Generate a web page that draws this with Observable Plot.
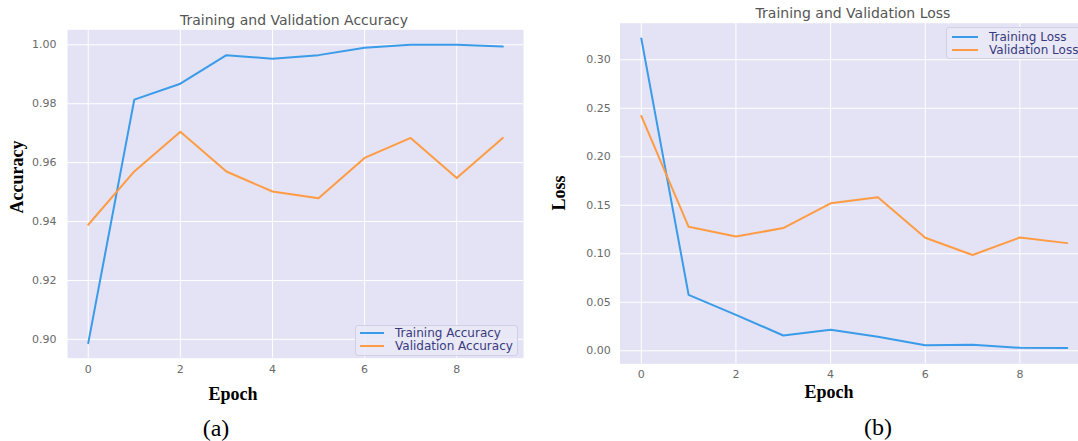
<!DOCTYPE html>
<html>
<head>
<meta charset="utf-8">
<script src="https://cdn.jsdelivr.net/npm/d3@7"></script>
<script src="https://cdn.jsdelivr.net/npm/@observablehq/plot@0.6"></script>
<style>
  body { margin: 0; background: #fff; }
  #wrap { position: relative; width: 1078px; height: 441px; overflow: hidden; background: #fff; }
  .abs { position: absolute; white-space: nowrap; }
  .title { font-family: "DejaVu Sans", sans-serif; font-size: 14px; color: #555; transform: translate(-50%, -50%); }
  .axlab { font-family: "Liberation Serif", "Times New Roman", serif; font-weight: bold; font-size: 18px; color: #000; }
  .cap { font-family: "Liberation Serif", "Times New Roman", serif; font-size: 24px; color: #000; transform: translate(-50%, -50%); }
  .legend { border: 1px solid #cfcfe6; background: rgba(232,232,246,0.8); border-radius: 3px; }
  .legend .row { position: absolute; font-family: "DejaVu Sans", sans-serif; font-size: 12px; color: #3a3a7e; }
  .legend .sw { position: absolute; height: 2px; }
</style>
</head>
<body>
<div id="wrap"></div>
<script>
const epochs = [0, 1, 2, 3, 4, 5, 6, 7, 8, 9];
const trainAcc = [0.8987, 0.9814, 0.9868, 0.9965, 0.9953, 0.9965, 0.9990, 1.0000, 1.0000, 0.9994];
const valAcc   = [0.9389, 0.9570, 0.9705, 0.9570, 0.9502, 0.9479, 0.9616, 0.9684, 0.9548, 0.9684];
const trainLoss = [0.322, 0.0576, 0.0371, 0.0158, 0.0216, 0.0144, 0.0058, 0.0062, 0.0031, 0.0030];
const valLoss   = [0.2421, 0.1278, 0.1178, 0.1265, 0.1520, 0.1582, 0.1165, 0.0987, 0.1168, 0.1110];
const xTicks = [0, 2, 4, 6, 8];
const accTicks = [0.90, 0.92, 0.94, 0.96, 0.98, 1.00];
const lossTicks = [0.00, 0.05, 0.10, 0.15, 0.20, 0.25, 0.30];

const BLUE = "#3a9be8", ORANGE = "#ff9b42", BG = "#e3e3f5", TICK = "#6a6a6a";

function table(ys) { return epochs.map((e, i) => ({epoch: e, value: ys[i]})); }

function panel({width, height, mL, mR, mT, mB, yDomain, yTicks, series, yPad, xPad}) {
  return Plot.plot({
    width, height,
    marginLeft: mL, marginRight: mR, marginTop: mT, marginBottom: mB,
    style: {fontFamily: "DejaVu Sans, sans-serif", fontSize: "11px", background: "transparent", overflow: "visible"},
    x: {domain: [-0.45, 9.45]},
    y: {domain: yDomain},
    marks: [
      Plot.frame({fill: BG, stroke: null}),
      Plot.gridX(xTicks, {stroke: "#fff", strokeOpacity: 1, strokeWidth: 1}),
      Plot.gridY(yTicks, {stroke: "#fff", strokeOpacity: 1, strokeWidth: 1}),
      ...series.map(s => Plot.line(table(s.data), {x: "epoch", y: "value", stroke: s.color, strokeWidth: 2})),
      Plot.axisX(xTicks, {tickSize: 0, tickPadding: xPad, fill: TICK, label: null, tickFormat: d => String(d)}),
      Plot.axisY(yTicks, {tickSize: 0, tickPadding: yPad, fill: TICK, label: null, tickFormat: d3.format(".2f")})
    ]
  });
}

const wrap = document.getElementById("wrap");

const left = panel({
  width: 540, height: 441, mL: 67, mR: 540 - 523, mT: 29.3, mB: 441 - 357.7,
  yDomain: [0.8936, 1.0051], yTicks: accTicks, yPad: 11, xPad: 6.7,
  series: [{data: trainAcc, color: BLUE}, {data: valAcc, color: ORANGE}]
});
left.style.position = "absolute"; left.style.left = "0px"; left.style.top = "0px";
wrap.appendChild(left);

const right = panel({
  width: 549, height: 441, mL: 79.5, mR: 1, mT: 22.7, mB: 441 - 363.3,
  yDomain: [-0.0134, 0.3377], yTicks: lossTicks, yPad: 9.3, xPad: 6.5,
  series: [{data: trainLoss, color: BLUE}, {data: valLoss, color: ORANGE}]
});
right.style.position = "absolute"; right.style.left = "540px"; right.style.top = "0px";
wrap.appendChild(right);

function addText(cls, text, x, y, extra) {
  const d = document.createElement("div");
  d.className = "abs " + cls;
  d.textContent = text;
  d.style.left = x + "px"; d.style.top = y + "px";
  if (extra) Object.assign(d.style, extra);
  wrap.appendChild(d);
  return d;
}

addText("title", "Training and Validation Accuracy", 294, 19.5);
addText("title", "Training and Validation Loss", 853, 13);
addText("axlab", "Accuracy", 17, 177, {transform: "translate(-50%, -50%) rotate(-90deg)"});
addText("axlab", "Loss", 559, 193, {transform: "translate(-50%, -50%) rotate(-90deg)"});
addText("axlab", "Epoch", 233, 394, {transform: "translate(-50%, -50%)"});
addText("axlab", "Epoch", 829, 392, {transform: "translate(-50%, -50%)"});
addText("cap", "(a)", 216, 428);
addText("cap", "(b)", 878, 427);

function legend(x, y, w, h, items, lx0, lx1, tx, rowYs) {
  const box = document.createElement("div");
  box.className = "abs legend";
  Object.assign(box.style, {left: x + "px", top: y + "px", width: w + "px", height: h + "px"});
  items.forEach((it, i) => {
    const sw = document.createElement("div");
    sw.className = "sw";
    Object.assign(sw.style, {left: (lx0 - x) + "px", width: (lx1 - lx0) + "px", top: (rowYs[i] - y - 1) + "px", background: it.color});
    box.appendChild(sw);
    const t = document.createElement("div");
    t.className = "row";
    t.textContent = it.label;
    Object.assign(t.style, {left: (tx - x) + "px", top: (rowYs[i] - y) + "px", transform: "translateY(-50%)"});
    box.appendChild(t);
  });
  wrap.appendChild(box);
}

legend(355, 325, 161, 29, [{label: "Training Accuracy", color: BLUE}, {label: "Validation Accuracy", color: ORANGE}], 359, 383, 394, [332, 345]);
legend(946, 27, 150, 30, [{label: "Training Loss", color: BLUE}, {label: "Validation Loss", color: ORANGE}], 951, 977, 988, [35.5, 48.5]);
</script>
</body>
</html>
